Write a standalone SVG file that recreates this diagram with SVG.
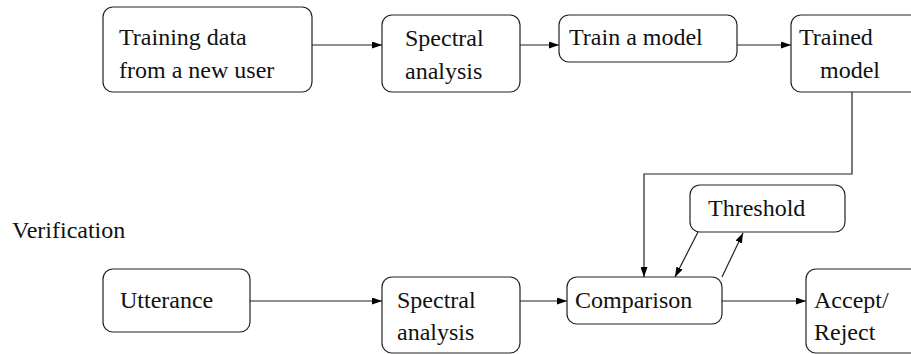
<svg xmlns="http://www.w3.org/2000/svg" width="911" height="354" viewBox="0 0 911 354">
<style>
.box{fill:#fff;stroke:#222;stroke-width:1.2}
.t{font-family:"Liberation Serif",serif;font-size:24px;fill:#111}
.c{fill:none;stroke:#222;stroke-width:1.2;marker-end:url(#ah)}
</style>
<defs>
<marker id="ah" viewBox="0 0 10 7" refX="10" refY="3.5" markerWidth="10" markerHeight="7" markerUnits="userSpaceOnUse" orient="auto">
<path d="M0,0 L10,3.5 L0,7 z" fill="#000"/>
</marker>
</defs>
<rect width="911" height="354" fill="#fff"/>
<g id="training-data"><rect class="box" x="103" y="7" width="209" height="85" rx="10"/><text class="t" x="119" y="45">Training data</text><text class="t" x="119" y="78">from a new user</text></g>
<g id="spectral1"><rect class="box" x="382" y="15" width="138" height="77" rx="10"/><text class="t" x="405" y="46">Spectral</text><text class="t" x="405" y="79">analysis</text></g>
<g id="train-model"><rect class="box" x="559" y="15" width="178" height="47" rx="10"/><text class="t" x="569" y="45">Train a model</text></g>
<g id="trained-model"><rect class="box" x="791" y="15" width="140" height="77" rx="10"/><text class="t" x="799" y="45">Trained</text><text class="t" x="820" y="78">model</text></g>
<text class="t" x="12" y="238">Verification</text>
<g id="threshold"><rect class="box" x="690" y="185" width="155" height="47" rx="10"/><text class="t" x="708" y="216">Threshold</text></g>
<g id="utterance"><rect class="box" x="103" y="269" width="147" height="63" rx="10"/><text class="t" x="120" y="308">Utterance</text></g>
<g id="spectral2"><rect class="box" x="382" y="277" width="138" height="76" rx="10"/><text class="t" x="397" y="308">Spectral</text><text class="t" x="397" y="340">analysis</text></g>
<g id="comparison"><rect class="box" x="567" y="277" width="155" height="47" rx="10"/><text class="t" x="575" y="308">Comparison</text></g>
<g id="accept-reject"><rect class="box" x="806" y="269" width="140" height="84" rx="10"/><text class="t" x="814" y="308">Accept/</text><text class="t" x="814" y="340">Reject</text></g>
<g id="connectors">
<line class="c" x1="312" y1="45" x2="382" y2="45"/>
<line class="c" x1="520" y1="45" x2="559" y2="45"/>
<line class="c" x1="737" y1="45" x2="791" y2="45"/>
<polyline class="c" points="852,92 852,174 644,174 644,277"/>
<line class="c" x1="698" y1="232" x2="675" y2="277"/>
<line class="c" x1="722" y1="277" x2="743" y2="233"/>
<line class="c" x1="250" y1="301" x2="382" y2="301"/>
<line class="c" x1="520" y1="301" x2="567" y2="301"/>
<line class="c" x1="722" y1="301" x2="806" y2="301"/>
</g>
</svg>
